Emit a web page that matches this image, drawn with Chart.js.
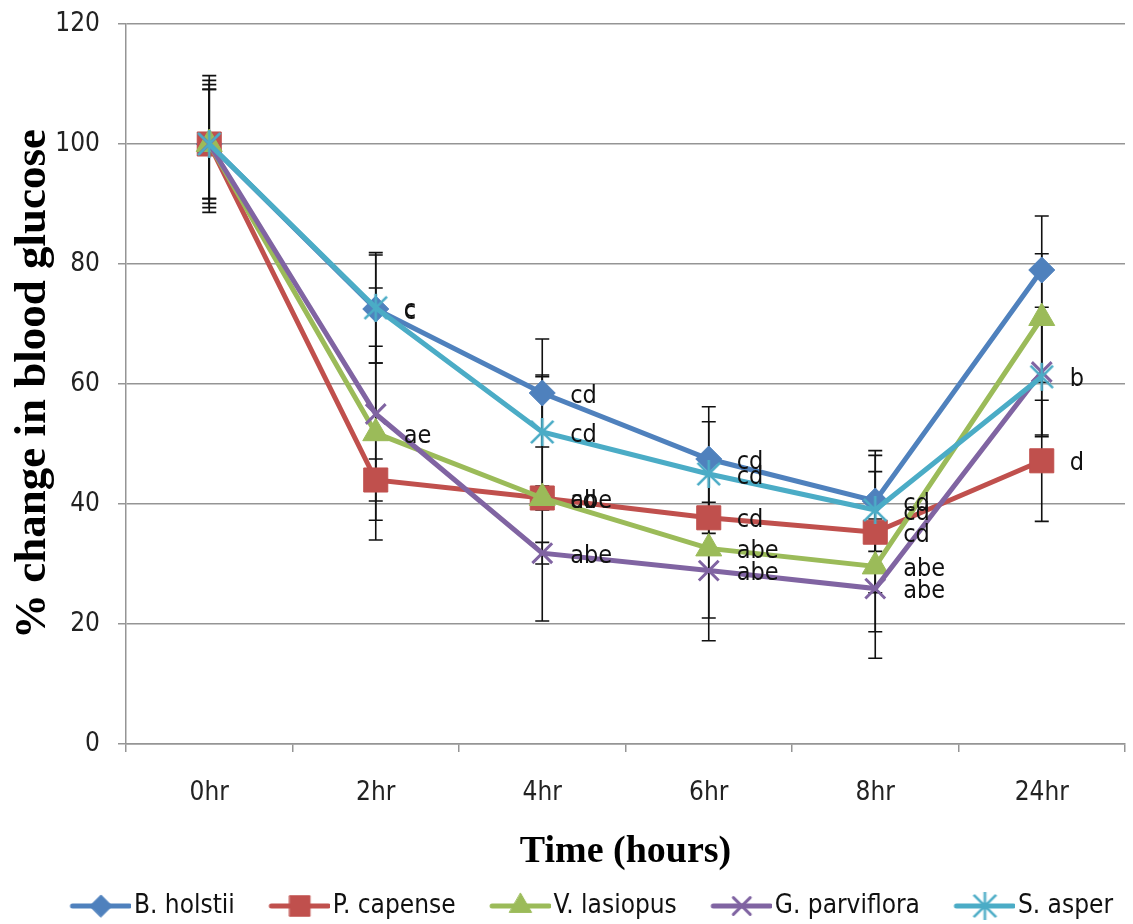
<!DOCTYPE html>
<html>
<head>
<meta charset="utf-8">
<script src="https://cdn.jsdelivr.net/npm/chart.js@4.4.1/dist/chart.umd.min.js"></script>
<style>
  html, body { margin: 0; background: #fff; }
</style>
</head>
<body>
<canvas id="glucoseChart" width="1133" height="924"></canvas>
<script>
// ── Data ───────────────────────────────────────────────────────────────────

const TIMES = ['0hr', '2hr', '4hr', '6hr', '8hr', '24hr'];

const HOLSTII    = [100, 72.5, 58.5, 47.5, 40.5, 79];
const CAPENSE    = [100, 44,   41,   37.7, 35.3, 47.2];
const LASIOPUS   = [100, 51.8, 41,   32.6, 29.6, 71];
const PARVIFLORA = [100, 55,   31.8, 28.9, 25.9, 62];
const ASPER      = [100, 72.7, 52,   45,   39,   61.2];

// symmetric error bars (± value)
const HOLSTII_ERR    = [11.4, 9,    9,    8.7,  8.4,  9];
const CAPENSE_ERR    = [10.6, 3.5,  20.5, 2.6,  10.1, 10.1];
const LASIOPUS_ERR   = [9.9,  14.5, 2,    15.4, 10.9, 10.7];
const PARVIFLORA_ERR = [9.1,  21,   1.8,  7.9,  11.6, 10.8];
const ASPER_ERR      = [9.1,  9.2,  9.2,  8.7,  9.1,  9.7];

// significance letters next to the points
const HOLSTII_SIG    = ['', 'c',  'cd',  'cd',  'cd',  ''];
const CAPENSE_SIG    = ['', '',   'cd',  'cd',  'cd',  'd'];
const LASIOPUS_SIG   = ['', 'ae', 'abe', 'abe', 'abe', ''];
const PARVIFLORA_SIG = ['', '',   'abe', 'abe', 'abe', ''];
const ASPER_SIG      = ['', 'c',  'cd',  'cd',  'cd',  'b'];

// ── Style ──────────────────────────────────────────────────────────────────

const NARROW = "'DejaVu Sans Condensed', 'Liberation Sans Narrow', 'Roboto', sans-serif";
const SERIF  = "'Liberation Serif', 'DejaVu Serif', serif";
const GRID_COLOR = '#959595';

// Excel-like asterisk: an X with a vertical bar through it
function asterisk(color, r) {
  const cv = document.createElement('canvas');
  cv.width = cv.height = 2 * r + 4;
  const ctx = cv.getContext('2d');
  const c = r + 2, d = r * 0.8;
  ctx.strokeStyle = color;
  ctx.lineWidth = 2.6;
  ctx.beginPath();
  ctx.moveTo(c - d, c - d); ctx.lineTo(c + d, c + d);
  ctx.moveTo(c + d, c - d); ctx.lineTo(c - d, c + d);
  ctx.moveTo(c, c - r); ctx.lineTo(c, c + r);
  ctx.stroke();
  return cv;
}

const SERIES = [
  { label: 'B. holstii',    data: HOLSTII,    err: HOLSTII_ERR,    sig: HOLSTII_SIG,    color: '#4f81bd', style: 'rectRot',  radius: 13, bw: 1 },
  { label: 'P. capense',    data: CAPENSE,    err: CAPENSE_ERR,    sig: CAPENSE_SIG,    color: '#c0504d', style: 'rect',     radius: 17, bw: 1 },
  { label: 'V. lasiopus',   data: LASIOPUS,   err: LASIOPUS_ERR,   sig: LASIOPUS_SIG,   color: '#9bbb59', style: 'triangle', radius: 15, bw: 1 },
  { label: 'G. parviflora', data: PARVIFLORA, err: PARVIFLORA_ERR, sig: PARVIFLORA_SIG, color: '#8064a2', style: 'crossRot', radius: 14, bw: 3 },
  { label: 'S. asper',      data: ASPER,      err: ASPER_ERR,      sig: ASPER_SIG,      color: '#4bacc6', style: asterisk('#4bacc6', 14), radius: 14, bw: 3 },
];

// ── Legend swatches: line with the marker on it ────────────────────────────

function legendSwatch(s) {
  const cv = document.createElement('canvas');
  cv.width = 94; cv.height = 32;
  const ctx = cv.getContext('2d');
  ctx.strokeStyle = s.color;
  ctx.fillStyle = s.color;
  ctx.lineWidth = 5;
  ctx.lineCap = 'round';
  ctx.beginPath();
  ctx.moveTo(35, 16);
  ctx.lineTo(92, 16);
  ctx.stroke();
  ctx.lineWidth = s.bw;
  Chart.helpers.drawPoint(ctx, { pointStyle: s.style, radius: s.radius * 0.85, borderWidth: s.bw, rotation: 0 }, 63.5, 16);
  return cv;
}

// ── Plugins ────────────────────────────────────────────────────────────────

const errorBars = {
  id: 'errorBars',
  beforeDatasetsDraw(chart) {
    const { ctx, scales: { y } } = chart;
    ctx.save();
    ctx.strokeStyle = '#111';
    ctx.lineWidth = 1.6;
    SERIES.forEach((s, di) => {
      chart.getDatasetMeta(di).data.forEach((pt, i) => {
        const top = y.getPixelForValue(s.data[i] + s.err[i]);
        const bot = y.getPixelForValue(s.data[i] - s.err[i]);
        ctx.beginPath();
        ctx.moveTo(pt.x, top); ctx.lineTo(pt.x, bot);
        ctx.moveTo(pt.x - 7, top); ctx.lineTo(pt.x + 7, top);
        ctx.moveTo(pt.x - 7, bot); ctx.lineTo(pt.x + 7, bot);
        ctx.stroke();
      });
    });
    ctx.restore();
  },
};

const sigLabels = {
  id: 'sigLabels',
  afterDatasetsDraw(chart) {
    const { ctx } = chart;
    ctx.save();
    ctx.font = `25px ${NARROW}`;
    ctx.fillStyle = '#111';
    ctx.textAlign = 'left';
    ctx.textBaseline = 'middle';
    SERIES.forEach((s, di) => {
      chart.getDatasetMeta(di).data.forEach((pt, i) => {
        if (s.sig[i]) ctx.fillText(s.sig[i], pt.x + 28, pt.y + 3);
      });
    });
    ctx.restore();
  },
};

// ── Chart ──────────────────────────────────────────────────────────────────

const swatches = SERIES.map(legendSwatch);

new Chart(document.getElementById('glucoseChart'), {
  type: 'line',
  data: {
    labels: TIMES,
    datasets: SERIES.map((s, i) => ({
      label: s.label,
      data: s.data,
      borderColor: s.color,
      backgroundColor: s.color,
      borderWidth: 5,
      tension: 0,
      pointStyle: s.style,
      pointRadius: s.radius,
      pointBorderWidth: s.bw,
      pointBackgroundColor: s.color,
      pointBorderColor: s.color,
      order: SERIES.length - 1 - i,
    })),
  },
  options: {
    responsive: false,
    animation: false,
    layout: { autoPadding: false, padding: { top: 24, right: 8, left: 0, bottom: -5 } },
    plugins: {
      tooltip: { enabled: false },
      legend: {
        position: 'bottom',
        align: 'end',
        labels: {
          usePointStyle: true,
          pointStyleWidth: 73,
          padding: 12,
          color: '#111',
          font: { family: NARROW, size: 26 },
          generateLabels: () => SERIES.map((s, i) => ({
            text: s.label,
            pointStyle: swatches[i],
            fillStyle: s.color,
            strokeStyle: s.color,
            lineWidth: 0,
            hidden: false,
            datasetIndex: i,
            fontColor: '#111',
          })),
        },
      },
    },
    scales: {
      x: {
        offset: true,
        afterFit: sc => { sc.height = 137; sc.paddingLeft = 0; sc.paddingRight = 0; },
        grid: { display: true, drawOnChartArea: false, drawTicks: true, tickLength: 8, offset: true, color: GRID_COLOR, lineWidth: 1.5 },
        border: { color: GRID_COLOR, width: 1.5 },
        ticks: { color: '#222', padding: 26, font: { family: NARROW, size: 26 } },
        title: {
          display: true, text: 'Time (hours)', color: '#000',
          font: { family: SERIF, size: 38, weight: 'bold' },
          padding: { top: 0, bottom: 6 },
        },
      },
      y: {
        min: 0, max: 120,
        afterFit: sc => { sc.width = 126; sc.paddingTop = 0; sc.paddingBottom = 0; },
        grid: { color: GRID_COLOR, lineWidth: 1.5, tickLength: 8 },
        border: { color: GRID_COLOR, width: 1.5 },
        ticks: { stepSize: 20, color: '#222', padding: 18, font: { family: NARROW, size: 26 } },
        title: {
          display: true, text: '% change in blood glucose', color: '#000',
          font: { family: SERIF, size: 45, weight: 'bold' },
          padding: { top: 6, bottom: 0 },
        },
      },
    },
  },
  plugins: [errorBars, sigLabels],
});
</script>
</body>
</html>
